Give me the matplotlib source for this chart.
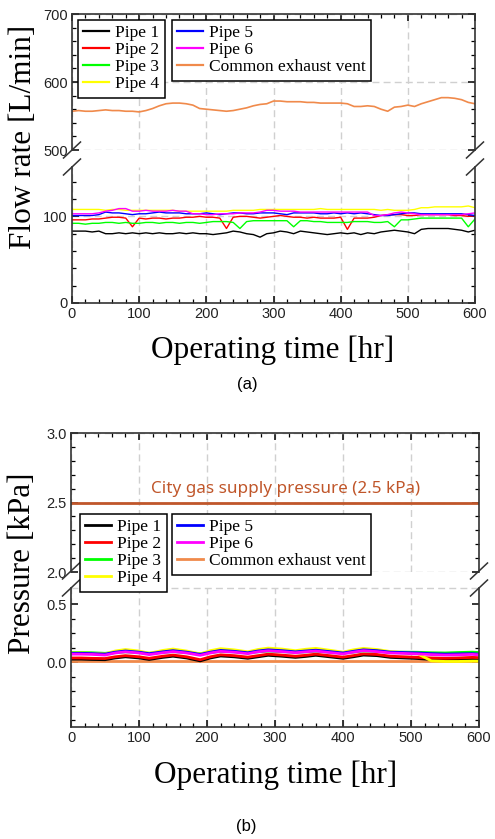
import numpy as np
import matplotlib.pyplot as plt
from matplotlib.lines import Line2D
from matplotlib.ticker import MultipleLocator, FixedLocator

plt.rcParams['font.family'] = 'Liberation Sans'

# ---------------- (a) flow rate data, one value every 10 hr ----------------
t_a = np.arange(0, 601, 10)
pipe1_a = [83, 83, 83, 82, 83, 80, 80, 81, 80, 81, 80, 81, 80, 81, 80, 80, 81, 80, 81, 80,
           80, 79, 80, 81, 83, 82, 80, 79, 76, 80, 81, 83, 82, 80, 83, 82, 81, 80, 79, 80,
           81, 80, 81, 79, 81, 80, 82, 83, 84, 83, 82, 80, 85, 86, 86, 86, 86, 85, 84, 82, 84]
pipe2_a = [96, 96, 96, 97, 97, 98, 99, 99, 98, 88, 98, 97, 98, 98, 97, 98, 98, 99, 99, 100,
           99, 99, 98, 86, 99, 100, 100, 99, 98, 99, 100, 101, 100, 99, 99, 98, 99, 98, 98, 98,
           99, 85, 98, 98, 98, 99, 101, 102, 102, 102, 101, 101, 102, 102, 102, 102, 102, 101, 101, 100, 101]
pipe3_a = [92, 92, 91, 92, 92, 93, 93, 92, 93, 92, 92, 93, 93, 92, 93, 93, 92, 93, 93, 92,
           93, 94, 94, 94, 93, 86, 94, 95, 95, 95, 95, 95, 95, 88, 95, 95, 94, 94, 93, 93,
           93, 93, 94, 94, 94, 93, 93, 94, 88, 96, 96, 97, 98, 98, 98, 98, 98, 98, 98, 88, 97]
pipe4_a = [108, 108, 108, 108, 108, 107, 108, 108, 107, 107, 107, 107, 107, 107, 107, 107, 106, 106, 106, 106,
           106, 106, 106, 106, 107, 107, 107, 107, 108, 108, 108, 108, 108, 108, 108, 108, 108, 109, 108, 108,
           108, 108, 108, 108, 108, 108, 107, 108, 107, 107, 107, 108, 110, 110, 111, 111, 111, 111, 111, 112, 110]
pipe5_a = [101, 101, 101, 101, 102, 105, 104, 104, 103, 102, 103, 103, 104, 105, 104, 104, 104, 103, 103, 103,
           104, 103, 102, 103, 104, 104, 103, 103, 104, 104, 104, 103, 102, 104, 104, 104, 104, 103, 103, 104,
           103, 104, 103, 104, 103, 102, 101, 101, 102, 103, 104, 104, 103, 103, 103, 103, 103, 103, 103, 102, 101]
pipe6_a = [103, 103, 103, 103, 104, 106, 107, 109, 109, 106, 106, 107, 106, 106, 106, 107, 106, 106, 103, 103,
           102, 102, 103, 103, 103, 104, 104, 104, 105, 107, 107, 106, 106, 106, 105, 105, 105, 105, 105, 105,
           105, 105, 105, 105, 105, 101, 101, 102, 104, 105, 104, 103, 102, 102, 102, 102, 102, 102, 102, 103, 104]
vent_a = [557, 558, 557, 557, 558, 559, 558, 558, 557, 557, 556, 558, 561, 565, 568, 569, 569, 568, 566, 561,
          560, 559, 558, 557, 558, 560, 562, 565, 567, 568, 572, 572, 571, 571, 571, 570, 570, 569, 569, 569,
          569, 568, 564, 564, 565, 564, 560, 557, 563, 564, 566, 564, 568, 571, 574, 577, 577, 576, 574, 570, 568]

# ---------------- (b) pressure data ----------------
t_b = [0, 15, 30, 50, 65, 80, 100, 115, 135, 150, 170, 190, 205, 220, 240, 260, 275, 290,
       310, 330, 345, 360, 380, 400, 415, 430, 450, 470, 490, 510, 530, 550, 570, 590, 600]
pipe1_b = [0.025, 0.025, 0.022, 0.020, 0.035, 0.045, 0.035, 0.022, 0.040, 0.050, 0.035, 0.010,
           0.035, 0.052, 0.045, 0.032, 0.045, 0.058, 0.050, 0.040, 0.048, 0.058, 0.045, 0.032,
           0.045, 0.060, 0.055, 0.040, 0.035, 0.030, 0.022, 0.018, 0.020, 0.022, 0.020]
pipe2_b = [0.035, 0.035, 0.032, 0.030, 0.045, 0.055, 0.045, 0.032, 0.050, 0.060, 0.045, 0.020,
           0.045, 0.062, 0.055, 0.042, 0.055, 0.068, 0.060, 0.050, 0.058, 0.068, 0.055, 0.042,
           0.055, 0.070, 0.065, 0.050, 0.045, 0.040, 0.035, 0.032, 0.035, 0.040, 0.038]
pipe3_b = [0.082, 0.082, 0.080, 0.075, 0.082, 0.088, 0.082, 0.076, 0.084, 0.090, 0.082, 0.072,
           0.082, 0.092, 0.088, 0.080, 0.088, 0.095, 0.090, 0.084, 0.088, 0.094, 0.086, 0.078,
           0.086, 0.096, 0.092, 0.085, 0.085, 0.084, 0.080, 0.078, 0.082, 0.085, 0.082]
pipe4_b = [0.078, 0.078, 0.075, 0.070, 0.095, 0.108, 0.095, 0.075, 0.100, 0.112, 0.095, 0.070,
           0.098, 0.115, 0.105, 0.088, 0.108, 0.120, 0.112, 0.098, 0.110, 0.118, 0.102, 0.085,
           0.105, 0.118, 0.108, 0.090, 0.082, 0.070, 0.010, 0.005, 0.005, 0.008, 0.008]
pipe5_b = [0.075, 0.075, 0.073, 0.068, 0.085, 0.095, 0.085, 0.072, 0.088, 0.098, 0.085, 0.066,
           0.085, 0.100, 0.092, 0.080, 0.095, 0.105, 0.098, 0.088, 0.095, 0.102, 0.090, 0.078,
           0.092, 0.105, 0.098, 0.085, 0.082, 0.078, 0.072, 0.068, 0.070, 0.072, 0.068]
pipe6_b = [0.068, 0.068, 0.066, 0.060, 0.078, 0.088, 0.078, 0.064, 0.080, 0.090, 0.078, 0.058,
           0.078, 0.092, 0.085, 0.072, 0.088, 0.097, 0.090, 0.080, 0.088, 0.095, 0.082, 0.070,
           0.085, 0.098, 0.090, 0.078, 0.074, 0.070, 0.064, 0.060, 0.062, 0.066, 0.062]
vent_b = [0.005] * len(t_b)
city_gas = 2.5

labels = ['Pipe 1', 'Pipe 2', 'Pipe 3', 'Pipe 4', 'Pipe 5', 'Pipe 6', 'Common exhaust vent']
colors = ['black', 'red', '#00ff00', '#ffff00', 'blue', '#ff00ff', '#f08a4b']
gas_color = '#c0562a'

W, H = 495, 839
fig = plt.figure(figsize=(W / 100, H / 100), dpi=100)


def px_box(x0, y0, x1, y1):
    return [x0 / W, 1 - y1 / H, (x1 - x0) / W, (y1 - y0) / H]


def style(ax, upper):
    ax.set_xlim(0, 600)
    ax.xaxis.set_major_locator(MultipleLocator(100))
    ax.xaxis.set_minor_locator(MultipleLocator(20))
    ax.tick_params(which='both', direction='in', left=True, right=True,
                   top=upper, bottom=not upper, labelbottom=not upper,
                   labelsize=10.5, labelcolor='#222222', pad=3)
    ax.tick_params(which='major', length=5, width=1.1)
    ax.tick_params(which='minor', length=3, width=0.9)
    ax.spines['bottom' if upper else 'top'].set_visible(False)
    for s in ax.spines.values():
        s.set_linewidth(1.2)
        s.set_color('#333333')
    ax.grid(True, which='major', axis='x', ls=(0, (5, 3)), color='#d0d0d0', lw=1)
    ax.set_axisbelow(True)


def breaks(xs, ys):
    for x in xs:
        for y in ys:
            fig.add_artist(Line2D([(x - 8.5) / W, (x + 8.5) / W],
                                  [1 - (y + 8) / H, 1 - (y - 8) / H],
                                  color='#333333', lw=1.1))


# ---------------- panel (a) ----------------
a_up = fig.add_axes(px_box(72, 14, 475, 150))
a_lo = fig.add_axes(px_box(72, 167, 475, 303))
series_a = [pipe1_a, pipe2_a, pipe3_a, pipe4_a, pipe5_a, pipe6_a]
handles_a = []
for vals, c, lab in zip(series_a, colors, labels):
    h, = a_lo.plot(t_a, vals, color=c, lw=1.0, label=lab)
    handles_a.append(h)
h, = a_up.plot(t_a, vent_a, color=colors[6], lw=1.2, label=labels[6])
handles_a.append(h)

a_up.set_ylim(500, 700)
a_up.yaxis.set_major_locator(FixedLocator([500, 600, 700]))
a_up.yaxis.set_minor_locator(MultipleLocator(20))
a_lo.set_ylim(0, 157)
a_lo.yaxis.set_major_locator(FixedLocator([0, 100]))
a_lo.yaxis.set_minor_locator(MultipleLocator(20))
style(a_up, True)
style(a_lo, False)
a_up.grid(True, which='major', axis='y', ls=(0, (5, 3)), color='#d0d0d0', lw=1)
a_lo.grid(True, which='major', axis='y', ls=(0, (5, 3)), color='#d0d0d0', lw=1)
breaks([72, 475], [150, 167])

fig.text(24 / W, 1 - 137 / H, 'Flow rate [L/min]', rotation=90, ha='center', va='center',
         family='Liberation Serif', fontsize=22.5)
fig.text(273 / W, 1 - 350 / H, 'Operating time [hr]', ha='center', va='center',
         family='Liberation Serif', fontsize=22.5)
fig.text(247 / W, 1 - 384 / H, '(a)', ha='center', va='center', fontsize=12)

leg_kw = dict(loc='upper left', bbox_transform=fig.transFigure, frameon=True, fancybox=False,
              framealpha=1, edgecolor='black', borderaxespad=0,
              prop={'family': 'Liberation Serif', 'size': 12.5},
              labelspacing=0.05, borderpad=0.3, handlelength=1.5, handletextpad=0.35)
l1 = fig.legend(handles=handles_a[:4], bbox_to_anchor=(78 / W, 1 - 20 / H), **leg_kw)
l2 = fig.legend(handles=handles_a[4:], bbox_to_anchor=(172 / W, 1 - 20 / H), **leg_kw)
for l in (l1, l2):
    l.get_frame().set_linewidth(1.1)
    for ln in l.get_lines():
        ln.set_linewidth(1.6)

# ---------------- panel (b) ----------------
b_up = fig.add_axes(px_box(71, 433, 479, 572))
b_lo = fig.add_axes(px_box(71, 588, 479, 727))
series_b = [pipe1_b, pipe2_b, pipe3_b, pipe4_b, pipe5_b, pipe6_b, vent_b]
handles_b = []
for vals, c, lab in zip(series_b, colors, labels):
    h, = b_lo.plot(t_b, vals, color=c, lw=2.0, label=lab)
    handles_b.append(h)
handles_b[6].set_zorder(1.5)

b_up.axhline(city_gas, color=gas_color, lw=2)
b_up.text(316, 2.6, 'City gas supply pressure (2.5 kPa)', color=gas_color, ha='center',
          va='center', family='Noto Sans', fontsize=12.3)

b_up.set_ylim(2.0, 3.0)
b_up.yaxis.set_major_locator(FixedLocator([2.0, 2.5, 3.0]))
b_up.yaxis.set_minor_locator(MultipleLocator(0.1))
b_up.yaxis.set_major_formatter('{x:.1f}')
b_lo.set_ylim(-0.56, 0.638)
b_lo.yaxis.set_major_locator(FixedLocator([0.0, 0.5]))
b_lo.yaxis.set_minor_locator(FixedLocator([-0.5, -0.375, -0.25, -0.125, 0.125, 0.25, 0.375]))
b_lo.yaxis.set_major_formatter('{x:.1f}')
style(b_up, True)
style(b_lo, False)
b_up.grid(True, which='major', axis='y', ls=(0, (5, 3)), color='#d0d0d0', lw=1)
b_lo.axhline(0.638, ls=(0, (5, 3)), color='#d0d0d0', lw=1, clip_on=False)
breaks([71, 479], [571, 588])

fig.text(23 / W, 1 - 563 / H, 'Pressure [kPa]', rotation=90, ha='center', va='center',
         family='Liberation Serif', fontsize=22.5)
fig.text(276 / W, 1 - 775 / H, 'Operating time [hr]', ha='center', va='center',
         family='Liberation Serif', fontsize=22.5)
fig.text(246 / W, 1 - 827 / H, '(b)', ha='center', va='center', fontsize=12)

l3 = fig.legend(handles=handles_b[:4], bbox_to_anchor=(80 / W, 1 - 514 / H), **leg_kw)
l4 = fig.legend(handles=handles_b[4:], bbox_to_anchor=(172 / W, 1 - 514 / H), **leg_kw)
for l in (l3, l4):
    l.get_frame().set_linewidth(1.1)

fig.savefig('out.png', dpi=100)
